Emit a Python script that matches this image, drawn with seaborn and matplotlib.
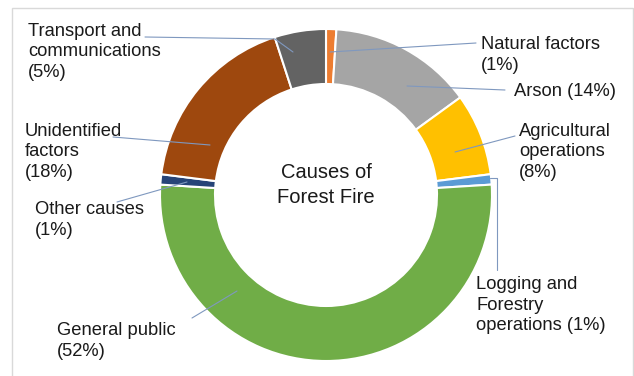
import matplotlib
matplotlib.use("Agg")
import matplotlib.pyplot as plt
import matplotlib.patches as mpatches
import seaborn as sns
import numpy as np

# data, clockwise from the top
causes = ['Natural factors', 'Arson', 'Agricultural operations',
          'Logging and Forestry operations', 'General public',
          'Other causes', 'Unidentified factors', 'Transport and communications']
share = [1, 14, 8, 1, 52, 1, 18, 5]
label_text = ['Natural factors\n(1%)', 'Arson (14%)', 'Agricultural\noperations\n(8%)',
              'Logging and\nForestry\noperations (1%)', 'General public\n(52%)',
              'Other causes\n(1%)', 'Unidentified\nfactors\n(18%)',
              'Transport and\ncommunications\n(5%)']
colors = ['#ED7D31', '#A5A5A5', '#FFC000', '#5B9BD5', '#70AD47',
          '#264478', '#9E480E', '#636363']

sns.set_theme(style='white')
plt.rcParams['font.family'] = ['Liberation Sans', 'DejaVu Sans']

W, H = 634, 376
fig = plt.figure(figsize=(W/100, H/100), dpi=100)
ax = fig.add_axes([0, 0, 1, 1])

def py(y):  # pixel row -> axis y
    return H - y

ax.pie(share, colors=colors, startangle=90, counterclock=False,
       center=(326, py(195)), radius=166,
       wedgeprops=dict(width=55, edgecolor='white', linewidth=1.5))

# label block positions (left x, centre y) and leader paths (text -> wedge), pixels
label_pos = [(481, 55), (514, 91), (519, 152), (476, 305),
             (57, 341), (35, 220), (25, 152), (28, 52)]
leaders = [[(476, 43), (330, 52)],
           [(505, 90), (407, 86)],
           [(515, 136), (455, 152)],
           [(497, 270), (497, 178), (490, 178)],
           [(192, 318), (237, 291)],
           [(117, 202), (187, 182)],
           [(113, 137), (210, 145)],
           [(145, 37), (275, 39), (293, 52)]]

for txt, (x, y), path in zip(label_text, label_pos, leaders):
    ax.text(x, py(y), txt, ha='left', va='center', fontsize=13.2,
            color='#1a1a1a', linespacing=1.3)
    xs = [p[0] for p in path]
    ys = [py(p[1]) for p in path]
    ax.plot(xs, ys, color='#7F98BF', lw=0.8)

ax.text(326, py(185), 'Causes of\nForest Fire', ha='center', va='center',
        fontsize=14.5, color='#1a1a1a', linespacing=1.4)

# chart frame
ax.add_patch(mpatches.Rectangle((12, py(380)), 621, 372, fill=False,
                                edgecolor='#D9D9D9', lw=1))

ax.set_xlim(0, W)
ax.set_ylim(0, H)
ax.set_aspect('equal')
ax.axis('off')
fig.savefig('out.png', dpi=100, facecolor='white')
